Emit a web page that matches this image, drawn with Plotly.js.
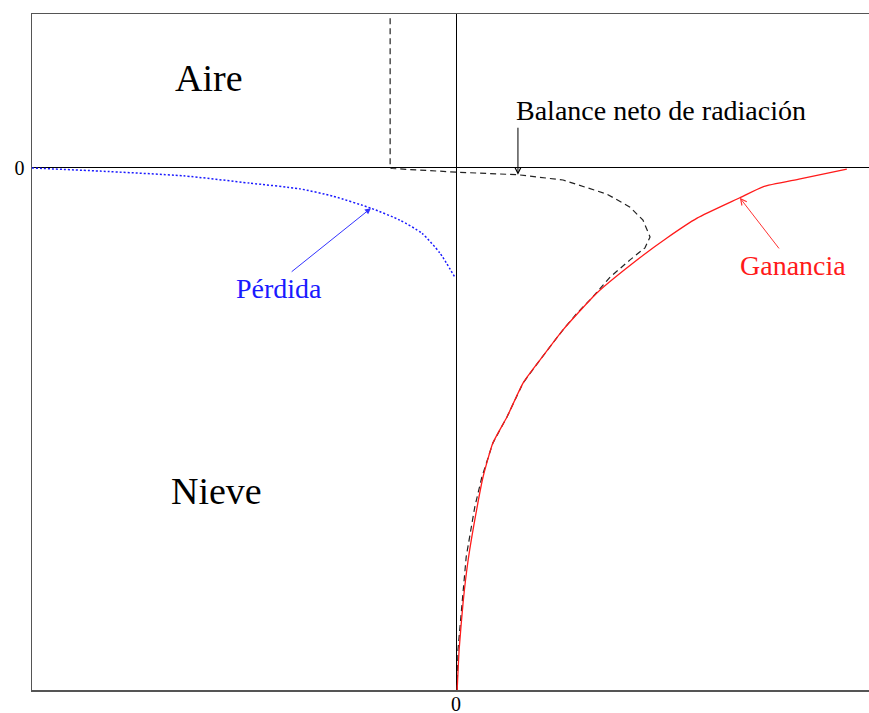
<!DOCTYPE html>
<html>
<head>
<meta charset="utf-8">
<script src="https://cdn.plot.ly/plotly-3.0.1.min.js"></script>
<style>
  html, body { margin: 0; padding: 0; background: #fff; overflow: hidden; }
  #chart { width: 878px; height: 713px; }
</style>
</head>
<body>
<div id="chart"></div>
<script>
// Radiative flux profiles across the air / snow interface.
// Horizontal: flux (arbitrary units, 0 = no net flux).
// Vertical: height (positive = air, negative = depth into snow).

// Solar gain absorbed inside the snow (red)
const gananciaFlux  = [0.003, 0.008, 0.018, 0.031, 0.054, 0.069, 0.094, 0.130, 0.171, 0.214,
                       0.273, 0.360, 0.469, 0.538, 0.615, 0.724, 0.783, 0.878, 0.997];
const gananciaDepth = [-1.000, -0.923, -0.833, -0.751, -0.649, -0.592, -0.527, -0.477, -0.412, -0.368,
                       -0.310, -0.239, -0.172, -0.134, -0.096, -0.057, -0.036, -0.021, -0.002];

// Long-wave loss near the surface (blue)
const perdidaFlux  = [-1.082, -0.908, -0.696, -0.526, -0.398, -0.314, -0.217, -0.143, -0.087, -0.041, -0.003];
const perdidaDepth = [0.000, -0.006, -0.015, -0.029, -0.040, -0.054, -0.077, -0.100, -0.125, -0.163, -0.209];

// Net radiation balance (black dashed)
const balanceFlux  = [-0.168, -0.168, -0.163, -0.092, 0.003, 0.158, 0.273, 0.385, 0.444, 0.477,
                      0.495, 0.482, 0.444, 0.393, 0.349, 0.309, 0.273, 0.214, 0.171, 0.130,
                      0.094, 0.066, 0.048, 0.026, 0.018, 0.013, 0.005, 0.003];
const balanceDepth = [0.287, 0.000, -0.001, -0.004, -0.008, -0.013, -0.023, -0.050, -0.075, -0.100,
                      -0.132, -0.153, -0.176, -0.209, -0.247, -0.278, -0.310, -0.368, -0.412, -0.477,
                      -0.527, -0.592, -0.649, -0.745, -0.808, -0.860, -0.923, -1.000];

const xTickVals = [0], xTickText = ['0'];
const yTickVals = [0], yTickText = ['0'];

const serif = 'Liberation Serif, Times New Roman, serif';

const traces = [
  {
    x: perdidaFlux, y: perdidaDepth, mode: 'lines', name: 'Pérdida',
    line: { color: '#1a1aff', width: 1.5, dash: '2px,2px', shape: 'spline', smoothing: 0.6 }
  },
  {
    x: balanceFlux, y: balanceDepth, mode: 'lines', name: 'Balance neto de radiación',
    line: { color: '#222', width: 1.2, dash: '6px,4px' }
  },
  {
    x: gananciaFlux, y: gananciaDepth, mode: 'lines', name: 'Ganancia',
    line: { color: '#ff1a1a', width: 1.3, shape: 'spline', smoothing: 0.5 }
  }
];

function label(text, x, y, size, color) {
  return { text: text, x: x, y: y, xref: 'x', yref: 'y', showarrow: false,
           xanchor: 'center', yanchor: 'middle',
           font: { family: serif, size: size, color: color } };
}
function pointer(x, y, ax, ay, color, head) {
  return { text: '', x: x, y: y, ax: ax, ay: ay, xref: 'x', yref: 'y', axref: 'x', ayref: 'y',
           showarrow: true, arrowhead: head, arrowsize: 1.2, arrowwidth: 1,
           arrowcolor: color, standoff: 0, startstandoff: 0 };
}

const layout = {
  width: 878, height: 713,
  margin: { l: 32, r: 4, t: 14, b: 23 },
  paper_bgcolor: '#fff', plot_bgcolor: '#fff',
  showlegend: false,
  font: { family: serif, color: '#000' },
  xaxis: {
    range: [-1.0816, 1.0663], showgrid: false,
    zeroline: true, zerolinecolor: '#000', zerolinewidth: 1,
    showline: true, mirror: true, linecolor: '#555', linewidth: 1.5,
    ticks: '', tickvals: xTickVals, ticktext: xTickText, ticklabelstandoff: -5,
    tickfont: { family: serif, size: 20, color: '#000' }
  },
  yaxis: {
    range: [-1.0, 0.295], showgrid: false,
    zeroline: true, zerolinecolor: '#000', zerolinewidth: 1,
    showline: true, mirror: true, linecolor: '#555', linewidth: 1.5,
    ticks: '', tickvals: yTickVals, ticktext: yTickText, ticklabelstandoff: 2,
    tickfont: { family: serif, size: 20, color: '#000' }
  },
  annotations: [
    label('Aire', -0.630, 0.172, 38, '#000'),
    label('Nieve', -0.610, -0.618, 38, '#000'),
    label('Balance neto de radiación', 0.524, 0.110, 28, '#000'),
    label('Pérdida', -0.452, -0.230, 28, '#1a1aff'),
    label('Ganancia', 0.860, -0.187, 28, '#ff1a1a'),
    pointer(0.158, -0.013, 0.158, 0.080, '#000', 5),
    pointer(-0.217, -0.077, -0.423, -0.201, '#3333ff', 2),
    pointer(0.724, -0.057, 0.827, -0.157, '#ff3333', 5)
  ]
};

Plotly.newPlot('chart', traces, layout, { displayModeBar: false, staticPlot: true });
</script>
</body>
</html>
